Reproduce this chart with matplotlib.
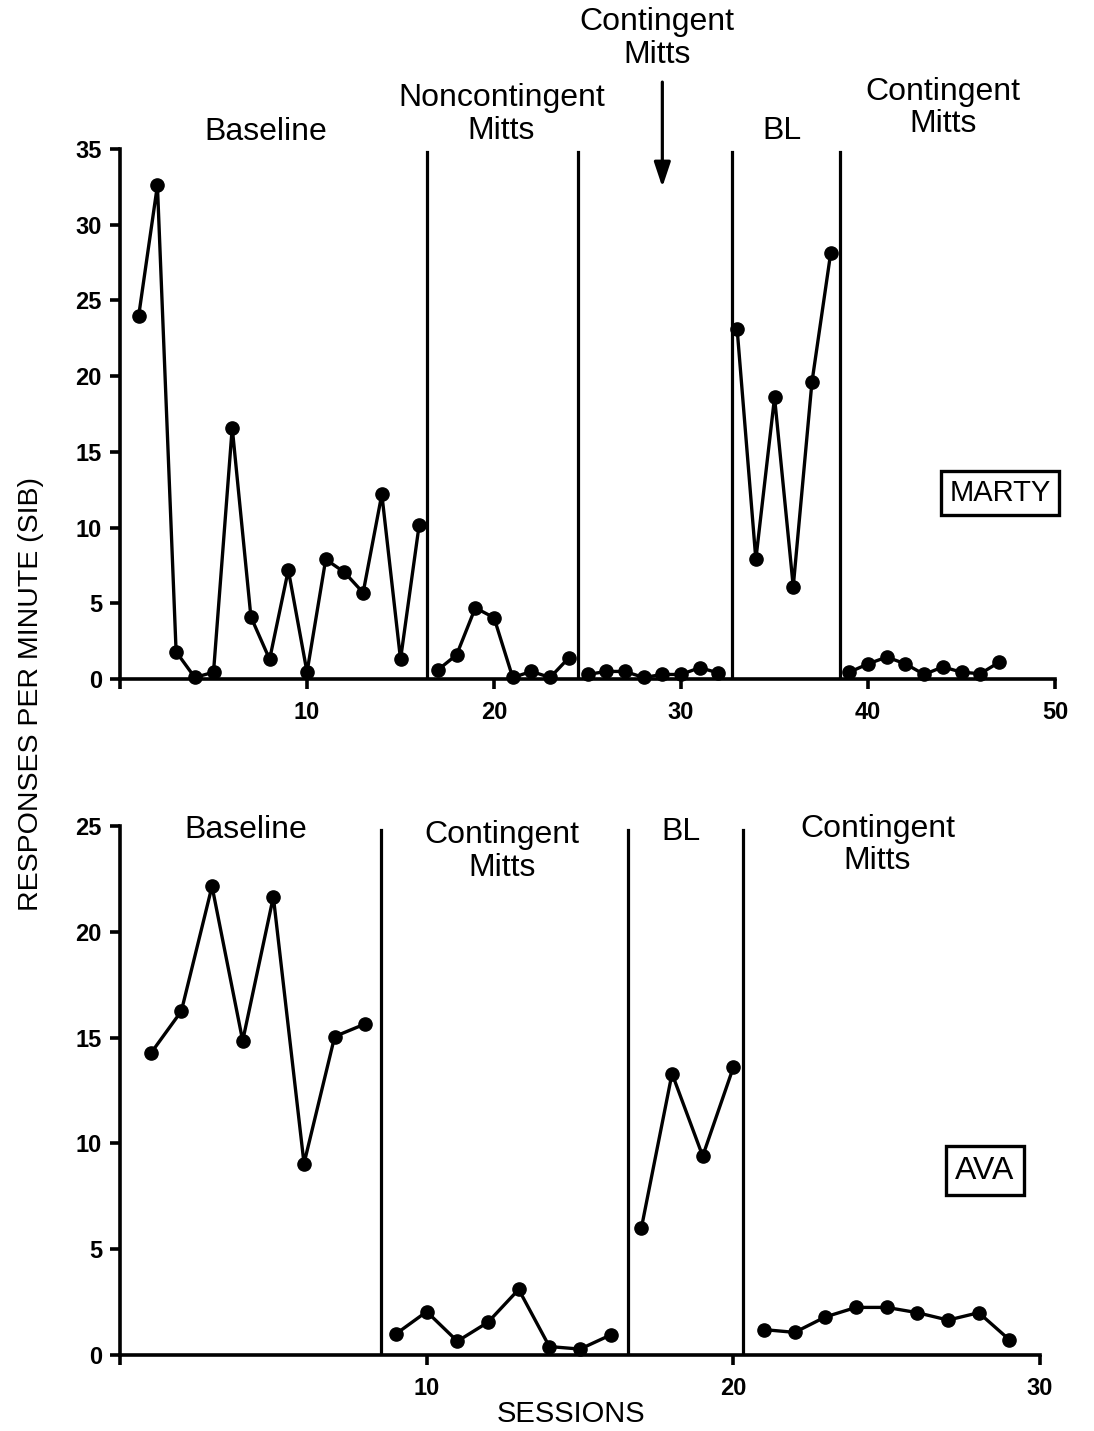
import numpy as np
import matplotlib.pyplot as plt

plt.rcParams['font.family'] = ['Liberation Sans', 'DejaVu Sans']

# Marty
marty_sessions = list(range(1, 48))
marty_rate = [24.0, 32.6, 1.8, 0.1, 0.45, 16.6, 4.1, 1.3, 7.2, 0.45, 7.9, 7.05, 5.7, 12.2, 1.3, 10.2,
              0.6, 1.6, 4.7, 4.05, 0.1, 0.5, 0.1, 1.4,
              0.3, 0.5, 0.5, 0.1, 0.3, 0.3, 0.75, 0.4,
              23.1, 7.9, 18.6, 6.1, 19.6, 28.1,
              0.45, 1.0, 1.45, 1.0, 0.3, 0.8, 0.45, 0.35, 1.1]
marty_breaks = [16.4, 24.5, 32.7, 38.5]
marty_phase = ["Baseline", "Noncontingent\nMitts", "BL", "Contingent\nMitts"]

# Ava
ava_sessions = list(range(1, 30))
ava_rate = [14.25, 16.25, 22.15, 14.85, 21.65, 9.05, 15.05, 15.65,
            1.0, 2.05, 0.65, 1.55, 3.1, 0.4, 0.28, 0.95,
            6.0, 13.3, 9.4, 13.6,
            1.2, 1.07, 1.8, 2.25, 2.25, 2.0, 1.65, 2.0, 0.72]
ava_breaks = [8.5, 16.55, 20.3]
ava_phase = ["Baseline", "Contingent\nMitts", "BL", "Contingent\nMitts"]

fig = plt.figure(figsize=(10.94, 14.31), dpi=100)
ax1 = fig.add_axes([0.1097, 0.5255, 0.8547, 0.3704])
ax2 = fig.add_axes([0.1097, 0.0531, 0.8410, 0.3697])

lab = dict(fontsize=23, ha='center', va='center', linespacing=1.12, clip_on=False)

def style(ax, xmax, ymax, xt):
    ax.set_xlim(0, xmax)
    ax.set_ylim(0, ymax)
    for s in ['top', 'right']:
        ax.spines[s].set_visible(False)
    for s in ['left', 'bottom']:
        ax.spines[s].set_linewidth(2.6)
    ax.set_yticks(np.arange(0, ymax + 1, 5))
    ax.set_xticks([0] + xt)
    ax.set_xticklabels([''] + [str(v) for v in xt])
    ax.tick_params(axis='both', direction='out', length=7, width=2.6, labelsize=17)
    for t in ax.get_xticklabels() + ax.get_yticklabels():
        t.set_fontweight('bold')
    ax.tick_params(axis='x', pad=9)
    ax.tick_params(axis='y', pad=6)

# top panel
ax1.plot(marty_sessions[:16], marty_rate[:16], 'o-', color='black', lw=2.4, ms=9.5, clip_on=False)
ax1.plot(marty_sessions[16:24], marty_rate[16:24], 'o-', color='black', lw=2.4, ms=9.5, clip_on=False)
ax1.plot(marty_sessions[24:32], marty_rate[24:32], 'o-', color='black', lw=2.4, ms=9.5, clip_on=False)
ax1.plot(marty_sessions[32:38], marty_rate[32:38], 'o-', color='black', lw=2.4, ms=9.5, clip_on=False)
ax1.plot(marty_sessions[38:], marty_rate[38:], 'o-', color='black', lw=2.4, ms=9.5, clip_on=False)
for b in marty_breaks:
    ax1.plot([b, b], [0, 34.8], color='black', lw=2.3)
style(ax1, 50, 35, [10, 20, 30, 40, 50])
ax1.text(7.8, 36.1, marty_phase[0], **lab)
ax1.text(20.4, 37.3, marty_phase[1], **lab)
ax1.text(28.7, 42.3, "Contingent\nMitts", **lab)
ax1.text(35.4, 36.2, marty_phase[2], **lab)
ax1.text(44.0, 37.7, marty_phase[3], **lab)
ax1.annotate('', xy=(29.0, 32.3), xytext=(29.0, 39.6), annotation_clip=False,
             arrowprops=dict(arrowstyle='-|>,head_length=1.5,head_width=0.5', color='black', lw=2.3))
ax1.text(47.05, 12.3, "MARTY", fontsize=21, ha='center', va='center',
         bbox=dict(boxstyle='square,pad=0.28', fc='white', ec='black', lw=2.4))

# bottom panel
ax2.plot(ava_sessions[:8], ava_rate[:8], 'o-', color='black', lw=2.4, ms=9.5, clip_on=False)
ax2.plot(ava_sessions[8:16], ava_rate[8:16], 'o-', color='black', lw=2.4, ms=9.5, clip_on=False)
ax2.plot(ava_sessions[16:20], ava_rate[16:20], 'o-', color='black', lw=2.4, ms=9.5, clip_on=False)
ax2.plot(ava_sessions[20:], ava_rate[20:], 'o-', color='black', lw=2.4, ms=9.5, clip_on=False)
for b in ava_breaks:
    ax2.plot([b, b], [0, 24.8], color='black', lw=2.3)
style(ax2, 30, 25, [10, 20, 30])
ax2.text(4.1, 24.8, ava_phase[0], **lab)
ax2.text(12.45, 23.8, ava_phase[1], **lab)
ax2.text(18.3, 24.7, ava_phase[2], **lab)
ax2.text(24.7, 24.1, ava_phase[3], **lab)
ax2.text(28.2, 8.7, "AVA", fontsize=23, ha='center', va='center',
         bbox=dict(boxstyle='square,pad=0.3', fc='white', ec='black', lw=2.4))
ax2.set_xlabel("SESSIONS", fontsize=21, labelpad=4)
ax2.xaxis.set_label_coords(0.49, -0.085)

fig.text(0.028, 0.515, "RESPONSES PER MINUTE (SIB)", rotation=90, fontsize=20.5,
         ha='center', va='center')

fig.savefig('out.png', dpi=100)
